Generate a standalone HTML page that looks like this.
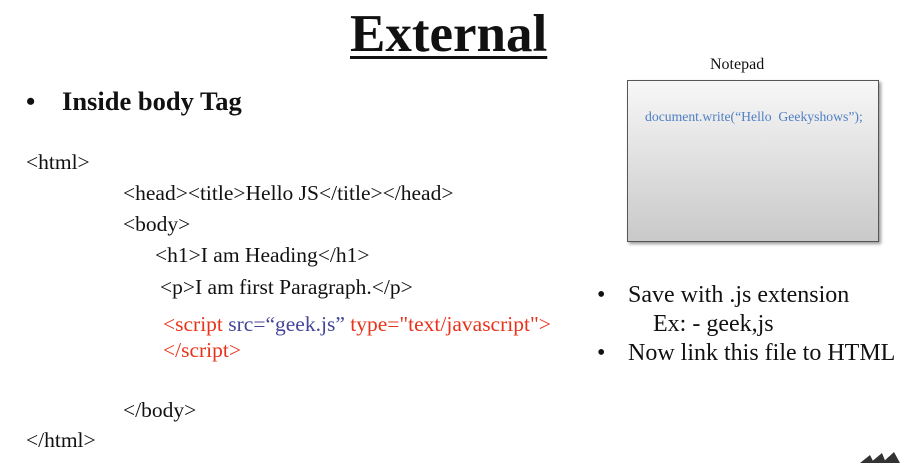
<!DOCTYPE html>
<html><head><style>
body{margin:0;width:906px;height:463px;background:#fff;overflow:hidden;position:relative;font-family:"Liberation Serif",serif;color:#111}
.a{position:absolute;white-space:nowrap}
.c{font-size:21.5px}
.d{font-size:24px}
.r{color:#e8331c}
.b{color:#45459a}
</style></head><body>
<div class="a" style="left:350px;top:4px;font-size:53px;font-weight:bold;text-decoration:underline;text-decoration-thickness:3px;text-underline-offset:5px">External</div>
<div class="a" style="left:26px;top:86px;font-size:26.5px;font-weight:bold">•<span style="position:absolute;left:36px">Inside body Tag</span></div>
<div class="a c" style="left:26px;top:150px">&lt;html&gt;</div>
<div class="a c" style="left:123px;top:181px">&lt;head&gt;&lt;title&gt;Hello JS&lt;/title&gt;&lt;/head&gt;</div>
<div class="a c" style="left:123px;top:212px">&lt;body&gt;</div>
<div class="a c" style="left:155px;top:243px">&lt;h1&gt;I am Heading&lt;/h1&gt;</div>
<div class="a c" style="left:160px;top:275px">&lt;p&gt;I am first Paragraph.&lt;/p&gt;</div>
<div class="a c r" style="left:163px;top:312px">&lt;script <span class="b">src=“geek.js”</span> type="text/javascript"&gt;</div>
<div class="a c r" style="left:163px;top:338px">&lt;/script&gt;</div>
<div class="a c" style="left:123px;top:398px">&lt;/body&gt;</div>
<div class="a c" style="left:26px;top:428px">&lt;/html&gt;</div>
<div class="a" style="left:710px;top:56px;font-size:16px">Notepad</div>
<div class="a" style="left:627px;top:80px;width:250px;height:160px;border:1.5px solid #555;background:linear-gradient(#f7f7f7,#c9c9c9);box-shadow:2px 2px 3px #999"></div>
<div class="a" style="left:645px;top:109px;font-size:13.7px;color:#4f7fc4">document.write(“Hello&nbsp; Geekyshows”);</div>
<div class="a d" style="left:597px;top:282px">•<span style="position:absolute;left:31px">Save with .js extension</span></div>
<div class="a d" style="left:653px;top:311px">Ex: - geek,js</div>
<div class="a d" style="left:597px;top:340px">•<span style="position:absolute;left:31px">Now link this file to HTML</span></div>
<svg class="a" style="left:860px;top:452px" width="46" height="11"><polygon points="0,11 10,3 14,11" fill="#333"/><polygon points="10,11 22,1 26,11" fill="#333"/><polygon points="22,11 34,0 40,11" fill="#333"/></svg>
</body></html>
